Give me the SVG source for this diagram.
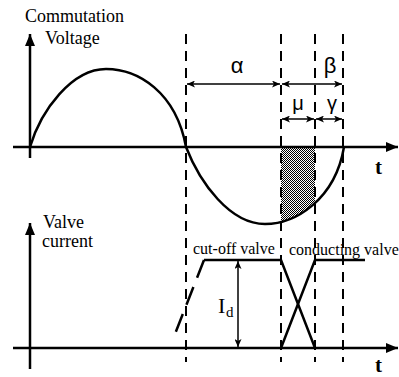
<svg xmlns="http://www.w3.org/2000/svg" width="399" height="377" viewBox="0 0 399 377">
<style>
.ax{stroke:#000;stroke-width:2.5;fill:none}
.curve{stroke:#000;stroke-width:2.5;fill:none}
.dash{stroke:#000;stroke-width:2;stroke-dasharray:10 7;fill:none}
.dim{stroke:#000;stroke-width:1.5;fill:none;marker-start:url(#dh);marker-end:url(#dh)}
.serif{font-family:"Liberation Serif","Times New Roman",serif;fill:#000}
.sans{font-family:"Liberation Sans",Arial,sans-serif;fill:#000}
</style>
<defs>
<marker id="ah" viewBox="0 0 12 10" refX="12" refY="5" markerWidth="12" markerHeight="10" markerUnits="userSpaceOnUse" orient="auto">
<path d="M0,0 L12,5 L0,10 Z" fill="#000"/>
</marker>
<marker id="dh" viewBox="0 0 8 7" refX="8" refY="3.5" markerWidth="8" markerHeight="7" markerUnits="userSpaceOnUse" orient="auto-start-reverse">
<path d="M0,0 L8,3.5 L0,7 L2,3.5 Z" fill="#000"/>
</marker>
<pattern id="chk" width="2" height="2" patternUnits="userSpaceOnUse">
<rect width="2" height="2" fill="#fff"/>
<rect width="1" height="1" fill="#000"/>
<rect x="1" y="1" width="1" height="1" fill="#000"/>
</pattern>
<clipPath id="shadeClip"><rect x="281" y="140" width="34" height="100"/></clipPath>
</defs>

<g id="shaded-area">
<path d="M186,147 C200,183 230,224 265,224 C295,224 335,200 344,147 Z" fill="url(#chk)" clip-path="url(#shadeClip)"/>
</g>

<g id="connectors">
<line class="dash" x1="186" y1="34" x2="186" y2="362"/>
<line class="dash" x1="281" y1="34" x2="281" y2="362"/>
<line class="dash" x1="315" y1="34" x2="315" y2="362"/>
<line class="dash" x1="343" y1="34" x2="343" y2="362"/>
<line class="dim" x1="187" y1="84" x2="280" y2="84"/>
<line class="dim" x1="282" y1="84" x2="342" y2="84"/>
<line class="dim" x1="282" y1="119" x2="314" y2="119"/>
<line class="dim" x1="316" y1="119" x2="342" y2="119"/>
<line class="dim" x1="238" y1="261" x2="238" y2="347"/>
</g>

<g id="top-axes">
<line class="ax" x1="30" y1="158" x2="30" y2="34" marker-end="url(#ah)"/>
<line class="ax" x1="13" y1="147" x2="398" y2="147" marker-end="url(#ah)"/>
</g>

<g id="bottom-axes">
<line class="ax" x1="30" y1="369" x2="30" y2="223" marker-end="url(#ah)"/>
<line class="ax" x1="13" y1="348" x2="398" y2="348" marker-end="url(#ah)"/>
</g>

<g id="voltage-curve">
<path class="curve" d="M30,147 C41,110 72,69 106,69 C138,69 176,92 186,147 C200,183 230,224 265,224 C295,224 335,200 344,147"/>
</g>

<g id="cutoff-valve">
<line class="curve" x1="204" y1="260" x2="173" y2="339" style="stroke-dasharray:19 10"/>
<polyline class="curve" points="204,260 281,260 315,348"/>
</g>

<g id="conducting-valve">
<polyline class="curve" points="281,348 315,260 365,260"/>
</g>

<g id="labels">
<text class="serif" x="25" y="22" font-size="18">Commutation</text>
<text class="serif" x="45" y="44" font-size="18">Voltage</text>
<text class="serif" x="43" y="228" font-size="18">Valve</text>
<text class="serif" x="42" y="247" font-size="18">current</text>
<text class="serif" x="193" y="254" font-size="16">cut-off valve</text>
<text class="serif" x="289" y="255" font-size="16">conducting valve</text>
<text class="serif" x="218" y="313" font-size="22">I</text>
<text class="serif" x="226" y="317" font-size="15">d</text>
<text class="sans" x="237" y="73" font-size="22" text-anchor="middle">α</text>
<text class="sans" x="330" y="73" font-size="22" text-anchor="middle">β</text>
<text class="sans" x="298" y="110" font-size="20" text-anchor="middle">μ</text>
<text class="sans" x="332" y="110" font-size="20" text-anchor="middle">γ</text>
<text class="serif" x="375" y="174" font-size="21" font-weight="bold">t</text>
<text class="serif" x="375" y="372" font-size="21" font-weight="bold">t</text>
</g>
</svg>
